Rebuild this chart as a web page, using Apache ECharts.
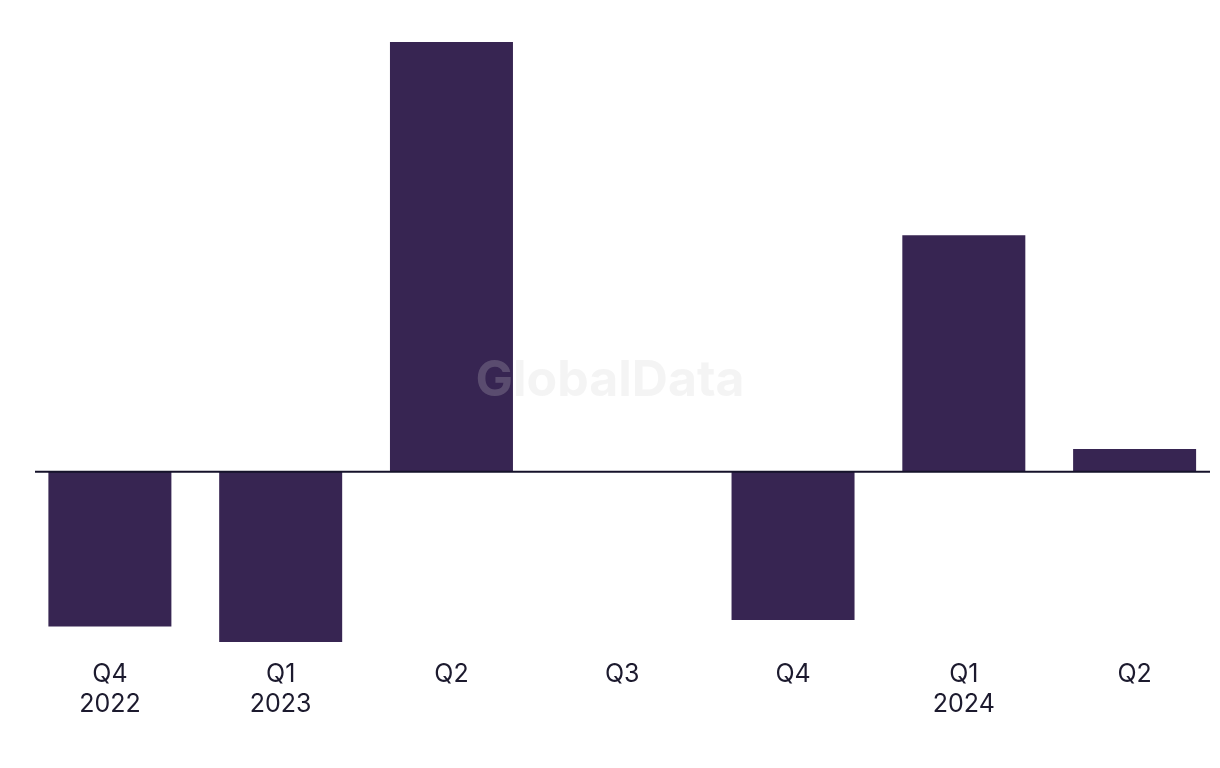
<!DOCTYPE html>
<html>
<head>
<meta charset="utf-8">
<script src="https://cdn.jsdelivr.net/npm/echarts@6/dist/echarts.min.js"></script>
<style>
html,body{margin:0;padding:0;background:#fff;}
#chart{width:1220px;height:768px;}
</style>
</head>
<body>
<div id="chart"></div>
<script>
const categories = ['Q4\n2022', 'Q1\n2023', 'Q2', 'Q3', 'Q4', 'Q1\n2024', 'Q2'];
const values = [-3.6, -3.96, 10.0, 0, -3.45, 5.5, 0.53];

const chart = echarts.init(document.getElementById('chart'), null, {renderer: 'canvas'});
chart.setOption({
  animation: false,
  backgroundColor: '#ffffff',
  grid: {left: 24.5, top: 42, width: 1199.5, height: 601.6, containLabel: false},
  xAxis: {
    type: 'category',
    data: categories,
    boundaryGap: true,
    axisLine: {show: false},
    axisTick: {show: false},
    axisLabel: {
      margin: 16,
      color: '#1c1a2e',
      fontFamily: 'Inter, "Liberation Sans", sans-serif',
      fontSize: 25,
      lineHeight: 30,
      interval: 0
    }
  },
  yAxis: {
    type: 'value',
    min: -4,
    max: 10,
    show: false,
    splitLine: {show: false}
  },
  series: [{
    type: 'bar',
    data: values,
    barWidth: 123,
    itemStyle: {color: '#372552'}
  }]
});

const y0 = chart.convertToPixel({yAxisIndex: 0}, 0);
chart.setOption({
  graphic: [
    {
      type: 'line',
      shape: {x1: 35, y1: y0, x2: 1210, y2: y0},
      style: {stroke: '#15122a', lineWidth: 2},
      z: 10
    },
    {
      type: 'text',
      left: 'center',
      top: 356,
      style: {
        text: 'GlobalData',
        fontFamily: 'Inter, "Liberation Sans", sans-serif',
        fontWeight: 'bold',
        fontSize: 50,
        fill: 'rgba(207,207,207,0.23)'
      },
      z: 20
    }
  ]
});
</script>
</body>
</html>
